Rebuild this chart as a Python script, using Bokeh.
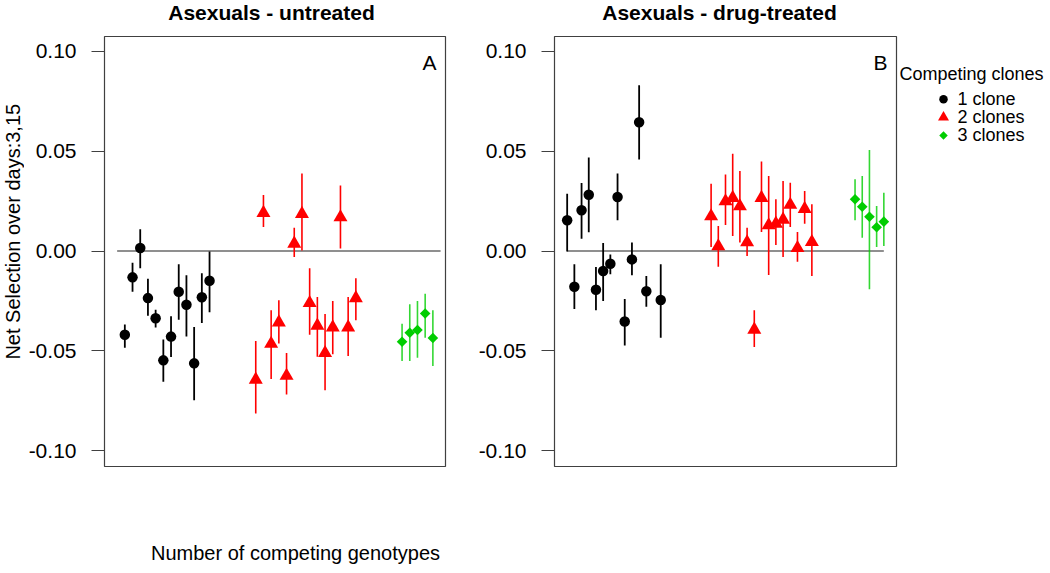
import math
from bokeh.plotting import figure
from bokeh.models import Range1d, FixedTicker, NumeralTickFormatter
from bokeh.layouts import row, column
from bokeh.embed import file_html
from bokeh.resources import INLINE
from bokeh.core.properties import value

# ---------------- data ----------------
y_ticks = [-0.10, -0.05, 0.00, 0.05, 0.10]

# Panel A : Asexuals - untreated
a1_x = [1, 2, 3, 4, 5, 6, 7, 8, 9, 10, 11, 12]
a1_y = [-0.0420, -0.0132, 0.0015, -0.0236, -0.0337, -0.0548, -0.0429, -0.0204, -0.0269, -0.0563, -0.0232, -0.0149]
a1_lo = [-0.0485, -0.0204, -0.0087, -0.0324, -0.0384, -0.0655, -0.0531, -0.0344, -0.0428, -0.0748, -0.0361, -0.0307]
a1_hi = [-0.0368, -0.0059, 0.0109, -0.0139, -0.0294, -0.0443, -0.0327, -0.0067, -0.0122, -0.0381, -0.0112, -0.0003]

a2_x = [18, 19, 20, 21, 22, 23, 24, 25, 26, 27, 28, 29, 30, 31]
a2_y = [-0.0645, 0.0191, -0.0465, -0.0358, -0.0625, 0.0037, 0.0186, -0.0261, -0.0374, -0.0511, -0.0383, 0.0169, -0.0383, -0.0236]
a2_lo = [-0.0815, 0.0120, -0.0642, -0.0463, -0.0719, -0.0030, 0.0003, -0.0420, -0.0530, -0.0698, -0.0518, 0.0012, -0.0526, -0.0347]
a2_hi = [-0.0451, 0.0281, -0.0297, -0.0247, -0.0511, 0.0117, 0.0388, -0.0087, -0.0231, -0.0316, -0.0251, 0.0328, -0.0231, -0.0137]

a3_x = [37, 38, 39, 40, 41]
a3_y = [-0.0455, -0.0410, -0.0396, -0.0313, -0.0436]
a3_lo = [-0.0551, -0.0551, -0.0535, -0.0435, -0.0576]
a3_hi = [-0.0364, -0.0267, -0.0251, -0.0214, -0.0297]

# Panel B : Asexuals - drug-treated
b1_x = [1, 2, 3, 4, 5, 6, 7, 8, 9, 10, 11, 12, 14]
b1_y = [0.0154, -0.0179, 0.0204, 0.0282, -0.0194, -0.0100, -0.0064, 0.0271, -0.0353, -0.0042, 0.0645, -0.0202, -0.0246]
b1_lo = [-0.0003, -0.0291, 0.0062, 0.0094, -0.0297, -0.0251, -0.0117, 0.0154, -0.0473, -0.0122, 0.0458, -0.0279, -0.0435]
b1_hi = [0.0287, -0.0067, 0.0341, 0.0468, -0.0080, 0.0040, -0.0017, 0.0389, -0.0241, 0.0042, 0.0831, -0.0125, -0.0067]

b2_x = [21, 22, 23, 24, 25, 26, 27, 28, 29, 30, 31, 32, 33, 34, 35]
b2_y = [0.0174, 0.0024, 0.0249, 0.0266, 0.0224, 0.0044, -0.0394, 0.0266, 0.0129, 0.0137, 0.0157, 0.0232, 0.0015, 0.0211, 0.0045]
b2_lo = [0.0020, -0.0079, 0.0130, 0.0075, 0.0042, -0.0025, -0.0481, 0.0095, -0.0120, 0.0030, -0.0030, 0.0120, -0.0054, 0.0137, -0.0125]
b2_hi = [0.0337, 0.0125, 0.0384, 0.0488, 0.0401, 0.0117, -0.0297, 0.0448, 0.0376, 0.0259, 0.0351, 0.0342, 0.0095, 0.0301, 0.0234]

b3_x = [41, 42, 43, 44, 45]
b3_y = [0.0259, 0.0222, 0.0172, 0.0119, 0.0147]
b3_lo = [0.0154, 0.0067, -0.0192, 0.0020, 0.0025]
b3_hi = [0.0359, 0.0376, 0.0506, 0.0226, 0.0292]

zero_A = [0, 42]
zero_B = [1, 45]

panel_titles = ["Asexuals - untreated", "Asexuals - drug-treated"]
panel_letters = ["A", "B"]
y_label = "Net Selection over days:3,15"
x_label = "Number of competing genotypes"
legend_labels = ["1 clone", "2 clones", "3 clones"]
legend_title = "Competing clones"

# ---------------- style / layout ----------------
FONT = "Liberation Sans"
BLACK = "#000000"
RED = "#FF0000"
GREEN = "#00CD00"
FRAME = "#404040"
TOP_H = 24
MID_H = 500
BOT_H = 40
YLAB_W = 24
TOTAL_W = 1046
YR = (-0.108, 0.1075)


def strip(w, h):
    p = figure(width=w, height=h, x_range=Range1d(0, w), y_range=Range1d(h, 0),
               x_axis_type=None, y_axis_type=None, output_backend="svg",
               toolbar_location=None, min_border=0)
    p.outline_line_color = None
    p.grid.visible = False
    p.background_fill_color = "white"
    p.border_fill_color = "white"
    return p


def make_panel(width, bl, br, xr):
    p = figure(width=width, height=MID_H, x_range=Range1d(*xr), y_range=Range1d(*YR),
               x_axis_type=None, output_backend="svg", toolbar_location=None,
               min_border_left=bl, min_border_right=br, min_border_top=12, min_border_bottom=58)
    p.outline_line_color = FRAME
    p.outline_line_width = 1.2
    p.ygrid.grid_line_color = None
    p.background_fill_color = "white"
    p.border_fill_color = "white"
    ax = p.yaxis[0]
    ax.ticker = FixedTicker(ticks=y_ticks)
    ax.formatter = NumeralTickFormatter(format="0.00")
    ax.major_tick_out = 13
    ax.major_tick_in = 0
    ax.minor_tick_line_color = None
    ax.major_tick_line_color = FRAME
    ax.axis_line_color = None
    ax.major_label_standoff = 15
    ax.major_label_text_font = FONT
    ax.major_label_text_font_size = "21px"
    ax.major_label_text_color = "black"
    return p


def draw(p, xs, ys, lo, hi, kind):
    if kind == 1:
        p.segment(x0=xs, y0=lo, x1=xs, y1=hi, line_color=BLACK, line_width=1.8)
        p.scatter(xs, ys, marker="circle", size=10.5, fill_color=BLACK, line_color=None)
    elif kind == 2:
        p.segment(x0=xs, y0=lo, x1=xs, y1=hi, line_color=RED, line_width=1.6)
        p.scatter(xs, ys, marker="triangle", size=14, fill_color=RED, line_color=None)
    else:
        p.segment(x0=xs, y0=lo, x1=xs, y1=hi, line_color=GREEN, line_width=1.6, line_alpha=0.8)
        p.scatter(xs, ys, marker="square", angle=math.pi / 4, size=7.5, fill_color=GREEN, line_color=None)


def letter(p, xr, txt):
    p.text(x=[xr[1]], y=[YR[1]], text=[txt], text_font=value(FONT), text_font_size=value("21px"),
           text_align="right", text_baseline="top", x_offset=-9, y_offset=14)


# Top strip: panel titles
pT = strip(TOTAL_W, TOP_H)
pT.text(x=[271, 719], y=[11.5, 11.5], text=panel_titles, text_font=value(FONT),
        text_font_size=value("21px"), text_font_style="bold", text_align="center",
        text_baseline="middle")

# Left strip: y axis title
pY = strip(YLAB_W, MID_H)
pY.text(x=[12], y=[227], text=[y_label], text_font=value(FONT), text_font_size=value("20px"),
        angle=math.pi / 2, text_align="center", text_baseline="middle")

# Panel A
XA = (-1.64, 42.64)
pA = make_panel(450, 80, 29, XA)
pA.segment(x0=[zero_A[0]], y0=[0], x1=[zero_A[1]], y1=[0], line_color="#202020", line_width=1.2)
draw(pA, a1_x, a1_y, a1_lo, a1_hi, 1)
draw(pA, a2_x, a2_y, a2_lo, a2_hi, 2)
draw(pA, a3_x, a3_y, a3_lo, a3_hi, 3)
letter(pA, XA, panel_letters[0])

# Panel B
XB = (-0.76, 46.76)
pB = make_panel(424, 80, 2, XB)
pB.segment(x0=[zero_B[0]], y0=[0], x1=[zero_B[1]], y1=[0], line_color="#202020", line_width=1.2)
draw(pB, b1_x, b1_y, b1_lo, b1_hi, 1)
draw(pB, b2_x, b2_y, b2_lo, b2_hi, 2)
draw(pB, b3_x, b3_y, b3_lo, b3_hi, 3)
letter(pB, XB, panel_letters[1])

# Legend strip
pL = strip(TOTAL_W - YLAB_W - 450 - 424, MID_H)
leg_y = [73, 94, 115]
pL.text(x=[1], y=[44], text=[legend_title], text_font=value(FONT), text_font_size=value("18px"),
        text_align="left", text_baseline="middle")
pL.text(x=[59, 59, 59], y=leg_y, text=legend_labels, text_font=value(FONT),
        text_font_size=value("18px"), text_align="left", text_baseline="middle")
pL.scatter([45], [leg_y[0]], marker="circle", size=8.5, fill_color=BLACK, line_color=None)
pL.scatter([45], [leg_y[1]], marker="triangle", size=11, fill_color=RED, line_color=None)
pL.scatter([45], [leg_y[2]], marker="square", angle=math.pi / 4, size=6, fill_color=GREEN, line_color=None)

# Bottom strip: x axis title
pX = strip(TOTAL_W, BOT_H)
pX.text(x=[295], y=[28], text=[x_label], text_font=value(FONT), text_font_size=value("20px"),
        text_align="center", text_baseline="middle")

layout = column(pT, row(pY, pA, pB, pL, spacing=0), pX, spacing=0)
open("out.html", "w").write(file_html(layout, INLINE))
